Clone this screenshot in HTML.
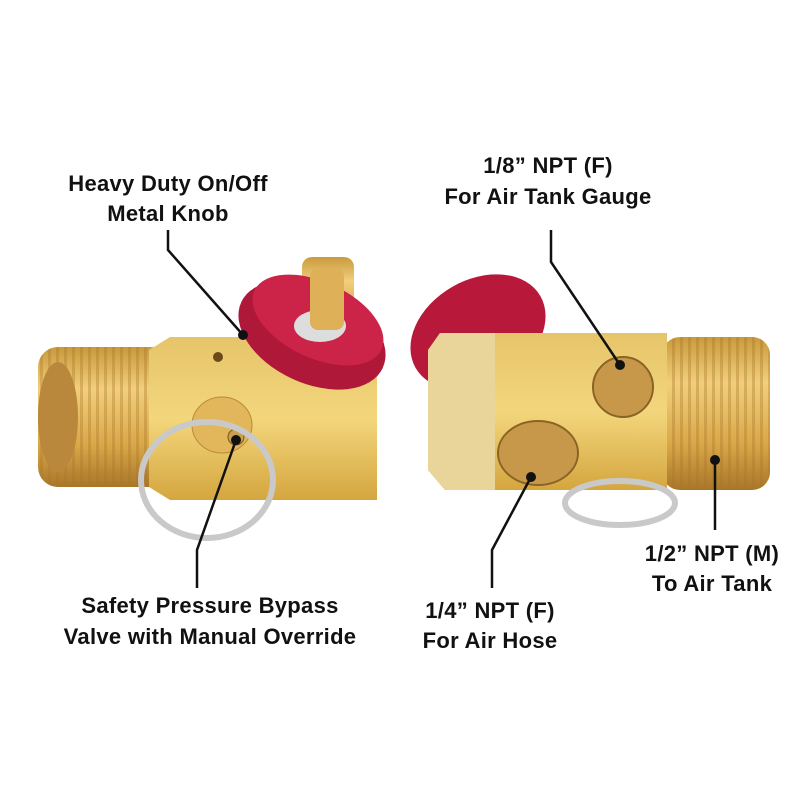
<!DOCTYPE html><html><head><style>body{margin:0;background:#fff}svg{display:block}text{font-family:"Liberation Sans",sans-serif;font-weight:bold;font-size:22px;letter-spacing:0.3px;fill:#111;text-anchor:middle}</style></head><body>
<svg width="800" height="800" viewBox="0 0 800 800">
<defs>
<linearGradient id="th" x1="0" y1="0" x2="0" y2="1"><stop offset="0" stop-color="#c99a3c"/><stop offset=".3" stop-color="#f1cf7c"/><stop offset=".7" stop-color="#d9a848"/><stop offset="1" stop-color="#a87628"/></linearGradient>
<linearGradient id="bd" x1="0" y1="0" x2="0" y2="1"><stop offset="0" stop-color="#e6c46a"/><stop offset=".5" stop-color="#f3d67c"/><stop offset="1" stop-color="#d4a63f"/></linearGradient>
<pattern id="rib" width="8" height="10" patternUnits="userSpaceOnUse"><rect width="8" height="10" fill="none"/><rect x="0" width="3" height="10" fill="#a8742a" opacity=".35"/></pattern>
</defs>
<rect x="38" y="347" width="132" height="140" rx="20" fill="url(#th)"/>
<rect x="38" y="347" width="132" height="140" rx="20" fill="url(#rib)"/>
<ellipse cx="58" cy="417" rx="20" ry="55" fill="#b9883c"/>
<polygon points="149,350 170,337 377,337 377,500 170,500 149,487" fill="url(#bd)"/>
<circle cx="218" cy="357" r="5" fill="#6b4a1a"/>
<ellipse cx="222" cy="425" rx="30" ry="28" fill="#e2b75c" stroke="#b98b35"/>
<circle cx="236" cy="437" r="8" fill="#caa04a" stroke="#7a561c"/>
<ellipse cx="207" cy="480" rx="66" ry="58" fill="none" stroke="#c9c9c9" stroke-width="6"/>
<rect x="302" y="257" width="52" height="80" rx="10" fill="url(#th)"/>
<ellipse cx="312" cy="335" rx="78" ry="48" transform="rotate(25 312 335)" fill="#b0183a"/>
<ellipse cx="318" cy="320" rx="70" ry="38" transform="rotate(25 318 320)" fill="#cc2448"/>
<ellipse cx="320" cy="326" rx="26" ry="16" fill="#ddd"/>
<rect x="310" y="268" width="34" height="62" rx="8" fill="#deb159"/>
<ellipse cx="478" cy="332" rx="72" ry="52" transform="rotate(-30 478 332)" fill="#b8183a"/>
<rect x="662" y="337" width="108" height="153" rx="18" fill="url(#th)"/>
<rect x="662" y="337" width="108" height="153" rx="18" fill="url(#rib)"/>
<polygon points="428,350 440,333 667,333 667,490 445,490 428,470" fill="url(#bd)"/>
<polygon points="428,350 440,333 495,333 495,490 445,490 428,470" fill="#e9d49a"/>
<ellipse cx="623" cy="387" rx="30" ry="30" fill="#c8984a" stroke="#8a6424" stroke-width="2"/>
<ellipse cx="538" cy="453" rx="40" ry="32" fill="#c8984a" stroke="#8a6424" stroke-width="2"/>
<ellipse cx="620" cy="503" rx="55" ry="22" fill="none" stroke="#c9c9c9" stroke-width="6"/>
<g stroke="#111" stroke-width="2.5" fill="none">
<polyline points="168,230 168,250 243,335"/>
<polyline points="551,230 551,262 620,365"/>
<polyline points="197,588 197,550 236,440"/>
<polyline points="492,588 492,550 531,477"/>
<polyline points="715,530 715,460"/>
</g>
<g fill="#111"><circle cx="243" cy="335" r="5"/><circle cx="620" cy="365" r="5"/><circle cx="236" cy="440" r="5"/><circle cx="531" cy="477" r="5"/><circle cx="715" cy="460" r="5"/></g>
<text x="168" y="191">Heavy Duty On/Off</text><text x="168" y="221">Metal Knob</text>
<text x="548" y="173">1/8” NPT (F)</text><text x="548" y="204">For Air Tank Gauge</text>
<text x="210" y="613">Safety Pressure Bypass</text><text x="210" y="644">Valve with Manual Override</text>
<text x="490" y="618">1/4” NPT (F)</text><text x="490" y="648">For Air Hose</text>
<text x="712" y="561">1/2” NPT (M)</text><text x="712" y="591">To Air Tank</text>
</svg></body></html>
